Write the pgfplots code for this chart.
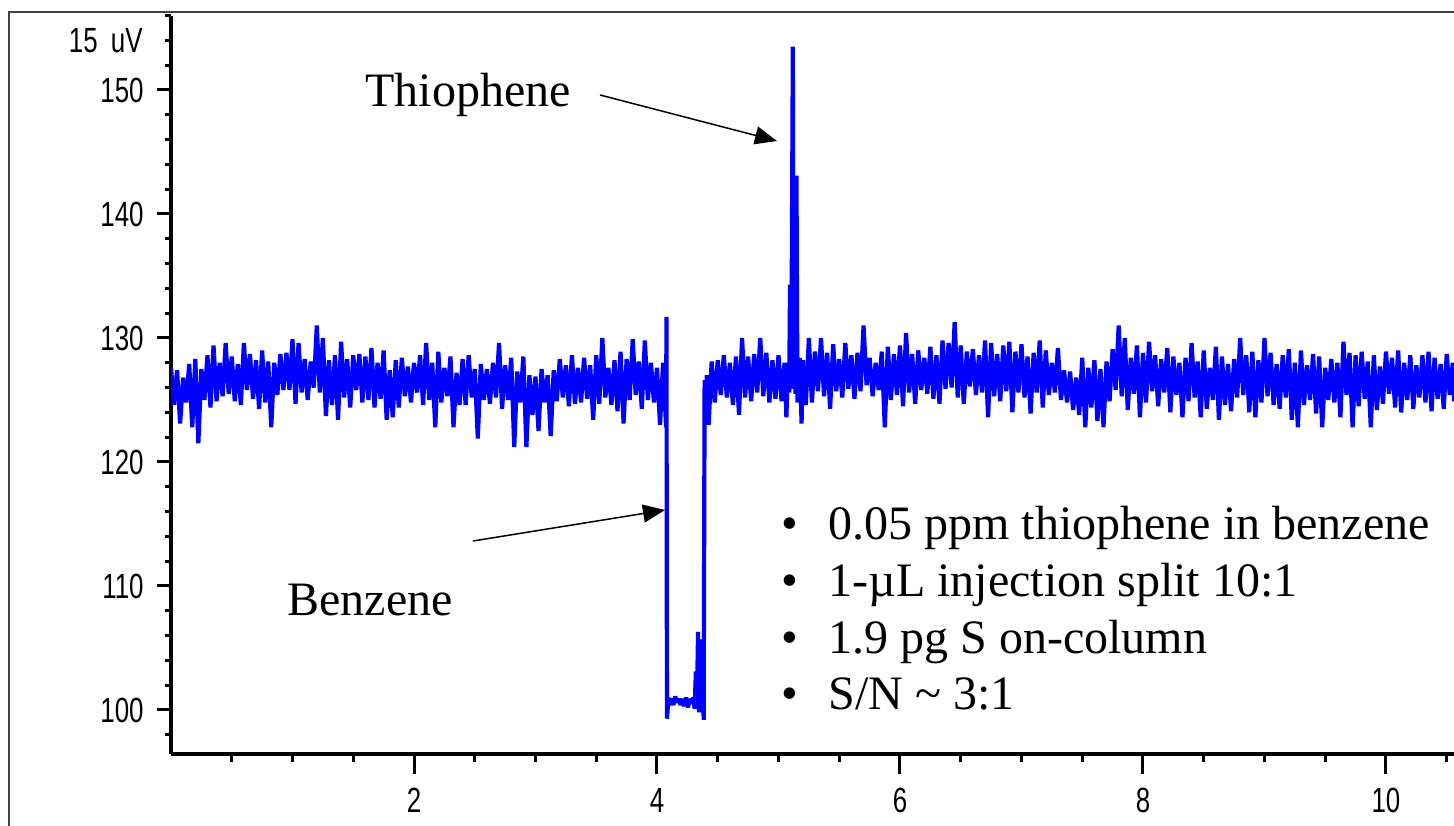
\documentclass[border=0pt]{standalone}
\usepackage{fontspec}
\setmainfont{Liberation Serif}
\newfontfamily\tickfont[FakeStretch=0.74]{Liberation Sans}
\usepackage{pgfplots}
\pgfplotsset{compat=1.18}
\usetikzlibrary{arrows.meta}
\pgfplotsset{
  common/.style={
    at={(85.5pt,35.5pt)}, anchor=south west,
    scale only axis, width=641.5pt, height=369.2pt,
    xmin=0, xmax=10.56, ymin=96.45, ymax=156,
    axis line style={line width=1.6pt, black},
    tick align=outside,
    tick style={line width=1.5pt, black},
    tick label style={font=\tickfont\fontsize{17.5pt}{20pt}\selectfont, inner sep=0pt},
    /pgf/number format/assume math mode=true,
  }
}
\begin{document}
\begin{tikzpicture}
\useasboundingbox (0,0) rectangle (727pt,412.5pt);
\draw[line width=1pt, black!75] (4.5pt,-10pt) -- (4.5pt,406.5pt) -- (740pt,406.5pt);
\begin{axis}[common,
  axis y line*=left, axis x line=none,
  ytick={100,110,...,150}, minor ytick={98,100,...,156},
  major tick length=7pt, minor tick length=3pt,
  yticklabel style={anchor=east, xshift=-6.5pt},
]
\addplot[blue, line width=2.1pt, line join=bevel] table[row sep=\\] {
x y\\
0.000 127.6\\ 0.025 124.6\\ 0.050 127.4\\ 0.075 123.1\\ 0.100 126.8\\ 0.125 124.8\\
0.150 127.9\\ 0.175 122.8\\ 0.200 128.3\\ 0.225 121.5\\ 0.250 127.5\\ 0.275 125.0\\
0.300 128.6\\ 0.325 124.4\\ 0.350 129.4\\ 0.375 124.9\\ 0.400 128.0\\ 0.425 125.3\\
0.450 129.6\\ 0.475 125.5\\ 0.500 128.5\\ 0.525 124.9\\ 0.550 127.9\\ 0.575 124.6\\
0.600 129.6\\ 0.625 125.8\\ 0.650 128.7\\ 0.675 125.1\\ 0.700 128.2\\ 0.725 124.3\\
0.750 129.0\\ 0.775 124.8\\ 0.800 128.1\\ 0.825 122.8\\ 0.850 128.0\\ 0.875 125.4\\
0.900 128.7\\ 0.925 125.8\\ 0.950 128.8\\ 0.975 125.8\\ 1.000 129.9\\ 1.025 124.7\\
1.050 129.6\\ 1.075 125.6\\ 1.100 128.3\\ 1.125 125.0\\ 1.150 128.1\\ 1.175 126.0\\
1.200 131.0\\ 1.225 125.6\\ 1.250 130.0\\ 1.275 123.7\\ 1.300 128.2\\ 1.325 124.6\\
1.350 128.6\\ 1.375 123.4\\ 1.400 129.7\\ 1.425 125.2\\ 1.450 128.3\\ 1.475 124.4\\
1.500 128.6\\ 1.525 125.8\\ 1.550 128.7\\ 1.575 124.8\\ 1.600 128.5\\ 1.625 125.0\\
1.650 129.2\\ 1.675 124.4\\ 1.700 128.0\\ 1.725 125.1\\ 1.750 129.0\\ 1.775 123.4\\
1.800 127.4\\ 1.825 123.6\\ 1.850 128.2\\ 1.875 124.4\\ 1.900 128.4\\ 1.925 125.3\\
1.950 127.7\\ 1.975 124.8\\ 2.000 128.0\\ 2.025 125.6\\ 2.050 128.6\\ 2.075 124.6\\
2.100 129.6\\ 2.125 125.0\\ 2.150 128.0\\ 2.175 122.8\\ 2.200 128.9\\ 2.225 124.8\\
2.250 127.6\\ 2.275 125.3\\ 2.300 128.5\\ 2.325 122.8\\ 2.350 127.2\\ 2.375 124.6\\
2.400 128.3\\ 2.425 124.6\\ 2.450 128.6\\ 2.475 125.2\\ 2.500 127.5\\ 2.525 121.9\\
2.550 127.9\\ 2.575 125.0\\ 2.600 127.5\\ 2.625 124.7\\ 2.650 128.0\\ 2.675 125.2\\
2.700 129.6\\ 2.725 124.3\\ 2.750 127.8\\ 2.775 125.0\\ 2.800 128.4\\ 2.825 121.2\\
2.850 127.3\\ 2.875 124.8\\ 2.900 128.5\\ 2.925 121.2\\ 2.950 127.0\\ 2.975 123.8\\
3.000 126.9\\ 3.025 122.5\\ 3.050 127.5\\ 3.075 124.8\\ 3.100 127.0\\ 3.125 122.1\\
3.150 127.4\\ 3.175 124.9\\ 3.200 128.3\\ 3.225 125.2\\ 3.250 127.8\\ 3.275 124.5\\
3.300 128.6\\ 3.325 124.7\\ 3.350 127.6\\ 3.375 124.8\\ 3.400 128.4\\ 3.425 125.1\\
3.450 127.8\\ 3.475 123.4\\ 3.500 128.6\\ 3.525 124.7\\ 3.550 130.0\\ 3.575 125.2\\
3.600 127.6\\ 3.625 124.6\\ 3.650 128.2\\ 3.675 124.1\\ 3.700 128.9\\ 3.725 123.1\\
3.750 128.3\\ 3.775 125.0\\ 3.800 129.9\\ 3.825 125.4\\ 3.850 128.1\\ 3.875 124.3\\
3.900 129.8\\ 3.925 125.0\\ 3.950 128.0\\ 3.975 124.8\\ 4.000 127.6\\ 4.025 123.0\\
4.050 128.0\\ 4.075 122.8\\ 4.078 131.7\\ 4.082 99.3\\
4.095 101.0\\ 4.105 100.4\\ 4.120 100.9\\ 4.135 100.4\\ 4.150 101.1\\ 4.165 100.6\\
4.180 100.9\\ 4.195 100.4\\ 4.210 100.9\\ 4.225 100.3\\ 4.240 101.0\\ 4.255 100.2\\
4.270 100.9\\ 4.285 100.5\\ 4.300 101.0\\ 4.310 100.1\\ 4.320 103.1\\ 4.328 100.2\\
4.338 106.3\\ 4.346 99.8\\ 4.356 105.7\\ 4.366 100.0\\ 4.376 105.5\\ 4.384 99.2\\
4.392 126.6\\ 4.400 124.4\\ 4.410 127.0\\ 4.425 123.0\\
4.450 128.1\\ 4.475 124.8\\ 4.500 128.2\\ 4.525 125.4\\ 4.550 128.6\\ 4.575 125.2\\
4.600 128.0\\ 4.625 124.6\\ 4.650 128.5\\ 4.675 123.8\\ 4.700 130.0\\ 4.725 125.2\\
4.750 128.5\\ 4.775 124.9\\ 4.800 128.7\\ 4.825 125.6\\ 4.850 130.0\\ 4.875 125.3\\
4.900 128.8\\ 4.925 124.8\\ 4.950 128.2\\ 4.975 125.1\\ 5.000 128.6\\ 5.025 124.9\\
5.050 128.0\\ 5.065 123.6\\ 5.078 128.0\\ 5.088 125.6\\ 5.095 134.3\\ 5.105 125.9\\
5.118 153.5\\ 5.124 126.0\\ 5.132 143.1\\ 5.140 125.5\\ 5.148 143.1\\ 5.156 124.8\\
5.175 128.4\\ 5.190 123.1\\ 5.200 128.2\\ 5.225 124.6\\ 5.250 130.0\\ 5.275 124.8\\
5.300 128.9\\ 5.325 125.7\\ 5.350 130.0\\ 5.375 125.3\\ 5.400 128.8\\ 5.425 124.3\\
5.450 129.5\\ 5.475 125.7\\ 5.500 128.3\\ 5.525 125.2\\ 5.550 129.6\\ 5.575 125.9\\
5.600 128.6\\ 5.625 125.1\\ 5.650 128.8\\ 5.675 125.7\\ 5.700 131.0\\ 5.725 126.2\\
5.750 128.4\\ 5.775 125.3\\ 5.800 128.0\\ 5.825 125.8\\ 5.850 128.9\\ 5.875 122.8\\
5.900 129.3\\ 5.925 125.0\\ 5.950 128.7\\ 5.975 125.4\\ 6.000 129.4\\ 6.025 124.5\\
6.050 130.4\\ 6.075 125.6\\ 6.100 128.7\\ 6.125 124.7\\ 6.150 129.0\\ 6.175 125.8\\
6.200 128.4\\ 6.225 125.5\\ 6.250 129.3\\ 6.275 125.1\\ 6.300 128.6\\ 6.325 124.7\\
6.350 129.8\\ 6.375 125.9\\ 6.400 129.6\\ 6.425 126.0\\ 6.450 131.3\\ 6.475 125.2\\
6.500 129.4\\ 6.525 124.7\\ 6.550 128.9\\ 6.575 126.1\\ 6.600 129.1\\ 6.625 125.4\\
6.650 128.6\\ 6.675 125.6\\ 6.700 129.8\\ 6.725 123.6\\ 6.750 129.6\\ 6.775 125.3\\
6.800 128.7\\ 6.825 124.9\\ 6.850 129.4\\ 6.875 125.7\\ 6.900 129.7\\ 6.925 124.0\\
6.950 128.9\\ 6.975 125.6\\ 7.000 129.5\\ 7.025 125.2\\ 7.050 128.5\\ 7.075 123.9\\
7.100 128.8\\ 7.125 125.6\\ 7.150 129.8\\ 7.175 124.4\\ 7.200 129.0\\ 7.225 125.4\\
7.250 128.0\\ 7.275 125.6\\ 7.300 129.2\\ 7.325 125.0\\ 7.350 127.4\\ 7.375 124.8\\
7.400 127.3\\ 7.425 124.2\\ 7.450 126.8\\ 7.475 123.8\\ 7.500 128.4\\ 7.525 122.8\\
7.550 127.6\\ 7.575 124.4\\ 7.600 128.2\\ 7.625 123.3\\ 7.650 127.5\\ 7.675 122.8\\
7.700 128.1\\ 7.725 124.9\\ 7.750 129.1\\ 7.775 125.8\\ 7.800 131.0\\ 7.825 125.3\\
7.850 130.0\\ 7.875 124.2\\ 7.900 128.4\\ 7.925 125.5\\ 7.950 129.4\\ 7.975 123.6\\
8.000 128.8\\ 8.025 124.8\\ 8.050 129.7\\ 8.075 125.7\\ 8.100 128.6\\ 8.125 124.5\\
8.150 128.3\\ 8.175 125.6\\ 8.200 129.2\\ 8.225 124.0\\ 8.250 128.5\\ 8.275 125.4\\
8.300 128.0\\ 8.325 123.6\\ 8.350 128.4\\ 8.375 124.9\\ 8.400 129.6\\ 8.425 125.2\\
8.450 128.1\\ 8.475 123.6\\ 8.500 129.0\\ 8.525 124.3\\ 8.550 127.6\\ 8.575 125.0\\
8.600 129.3\\ 8.625 123.4\\ 8.650 128.5\\ 8.675 124.6\\ 8.700 127.9\\ 8.725 124.1\\
8.750 128.3\\ 8.775 125.2\\ 8.800 130.0\\ 8.825 125.4\\ 8.850 128.6\\ 8.875 124.0\\
8.900 128.9\\ 8.925 123.6\\ 8.950 128.2\\ 8.975 124.8\\ 9.000 130.0\\ 9.025 125.3\\
9.050 128.8\\ 9.075 124.6\\ 9.100 127.9\\ 9.125 124.3\\ 9.150 128.6\\ 9.175 125.2\\
9.200 129.1\\ 9.225 123.4\\ 9.250 128.0\\ 9.275 122.8\\ 9.300 129.0\\ 9.325 124.6\\
9.350 127.8\\ 9.375 125.0\\ 9.400 128.7\\ 9.425 123.9\\ 9.450 128.5\\ 9.475 122.8\\
9.500 127.6\\ 9.525 125.0\\ 9.550 128.3\\ 9.575 124.8\\ 9.600 128.0\\ 9.625 123.6\\
9.650 129.7\\ 9.675 125.4\\ 9.700 128.8\\ 9.725 122.8\\ 9.750 128.6\\ 9.775 124.5\\
9.800 128.9\\ 9.825 125.1\\ 9.850 128.1\\ 9.875 122.8\\ 9.900 128.6\\ 9.925 124.2\\
9.950 127.7\\ 9.975 124.7\\ 10.000 128.9\\ 10.025 125.5\\ 10.050 128.4\\ 10.075 124.4\\
10.100 129.0\\ 10.125 124.0\\ 10.150 128.0\\ 10.175 125.0\\ 10.200 128.6\\ 10.225 124.3\\
10.250 127.8\\ 10.275 125.2\\ 10.300 128.6\\ 10.325 124.8\\ 10.350 128.9\\ 10.375 124.1\\
10.400 128.4\\ 10.425 125.1\\ 10.450 127.9\\ 10.475 124.3\\ 10.500 128.7\\ 10.525 125.4\\
10.550 128.0\\ 10.560 124.9\\
};
\end{axis}
\begin{axis}[common,
  axis x line*=bottom, axis y line=none,
  xtick={2,4,6,8,10}, minor xtick={0.5,1,...,10.5},
  major tick length=10pt, minor tick length=4pt,
  xticklabel style={anchor=base, yshift=-19pt},
]
\addplot[draw=none] coordinates {(1,120)};
\end{axis}
\node[anchor=base east, inner sep=0pt, font=\tickfont\fontsize{17.5pt}{20pt}\selectfont] at (71.5pt,386pt) {15\hspace{3pt} uV};
\node[anchor=base west, inner sep=0pt, font=\fontsize{24pt}{28pt}\selectfont] at (182.5pt,359pt) {Thiophene};
\node[anchor=base west, inner sep=0pt, font=\fontsize{24pt}{28pt}\selectfont] at (143.5pt,105pt) {Benzene};
\draw[line width=0.75pt, -{Triangle[length=11pt,width=9pt]}] (300pt,365pt) -- (388.5pt,342pt);
\draw[line width=0.75pt, -{Triangle[length=11pt,width=9pt]}] (236.5pt,142pt) -- (332.5pt,157.5pt);
\foreach \yy/\tt in {143/{0.05 ppm thiophene in benzene}, 114.5/{1-µL injection split 10:1}, 86/{1.9 pg S on-column}, 58/{S/N \textasciitilde\ 3:1}}{
  \node[anchor=base, inner sep=0pt, font=\fontsize{24pt}{28pt}\selectfont] at (395pt,\yy pt) {\textbullet};
  \node[anchor=base west, inner sep=0pt, font=\fontsize{24pt}{28pt}\selectfont] at (414pt,\yy pt) {\tt};
}
\end{tikzpicture}
\end{document}
